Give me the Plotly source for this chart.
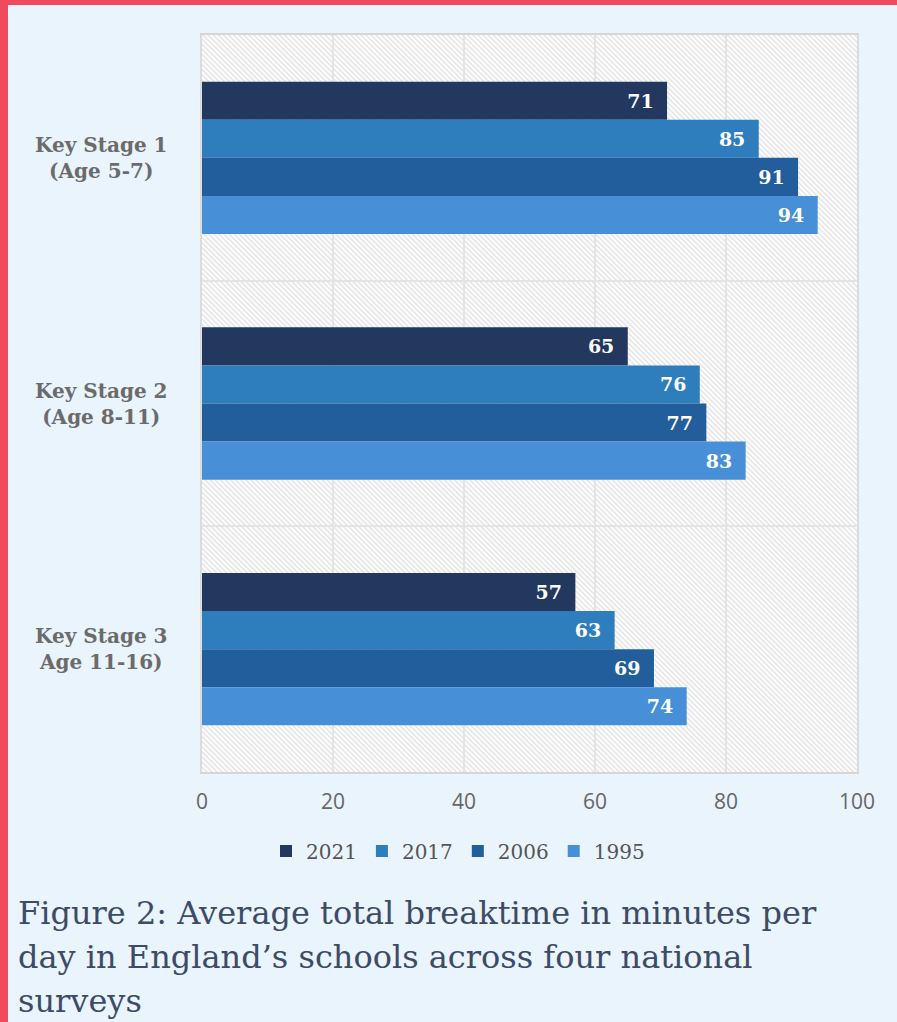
import base64
import plotly.graph_objects as go

# ---------------- data ----------------
categories = ["Key Stage 1", "Key Stage 2", "Key Stage 3"]
category_labels = ["Key Stage 1<br>(Age 5-7)", "Key Stage 2<br>(Age 8-11)", "Key Stage 3<br>Age 11-16)"]
series_names = ["2021", "2017", "2006", "1995"]
values_2021 = [71, 65, 57]
values_2017 = [85, 76, 63]
values_2006 = [91, 77, 69]
values_1995 = [94, 83, 74]
x_tick_values = [0, 20, 40, 60, 80, 100]
caption_lines = [
    "Figure 2: Average total breaktime in minutes per",
    "day in England\u2019s schools across four national",
    "surveys",
]

series_values = [values_2021, values_2017, values_2006, values_1995]
series_colors = ["#22385e", "#2e7dbd", "#225e9c", "#4790d8"]

# ---------------- geometry helpers ----------------
FIG_W, FIG_H = 897, 1022
L, R, T, B = 202, 857, 35, 772
W, H = R - L, B - T


def px_x(p):
    return (p - L) / W


def px_y(p):
    return (B - p) / H


# hatch background as an inline SVG image
svg = f'''<svg xmlns="http://www.w3.org/2000/svg" width="{W}" height="{H}" viewBox="0 0 {W} {H}">
<defs><pattern id="h" patternUnits="userSpaceOnUse" width="3.6" height="3.6" patternTransform="rotate(-45)">
<rect width="3.6" height="3.6" fill="#fcfcfc"/><rect width="1.4" height="3.6" fill="#e3e3e3"/></pattern></defs>
<rect width="{W}" height="{H}" fill="url(#h)"/></svg>'''
svg_uri = "data:image/svg+xml;base64," + base64.b64encode(svg.encode()).decode()

fig = go.Figure()

for name, vals, col in zip(series_names, series_values, series_colors):
    fig.add_trace(go.Bar(
        name=name,
        y=categories,
        x=vals,
        orientation="h",
        marker=dict(color=col, line=dict(width=0)),
        texttemplate="%{x}\u00a0\u2009",
        textposition="inside",
        insidetextanchor="end",
        textangle=0,
        textfont=dict(family="DejaVu Serif", size=19, color="white", weight="bold"),
        hoverinfo="skip",
    ))

annotations = []
for cat, lab in zip(categories, category_labels):
    annotations.append(dict(
        x=px_x(101), xref="paper", y=cat, yref="y",
        text=lab, showarrow=False, xanchor="center", yanchor="middle", align="center",
        font=dict(family="DejaVu Serif", size=20, color="#6b6b6b", weight="bold"),
    ))

caption_centers = [913, 957, 1001]
for line, cy in zip(caption_lines, caption_centers):
    annotations.append(dict(
        x=px_x(16), xref="paper", y=px_y(cy), yref="paper",
        text=line, showarrow=False, xanchor="left", yanchor="middle", align="left",
        font=dict(family="DejaVu Serif", size=32, color="#3d4b66"),
    ))

shapes = [
    dict(type="rect", xref="paper", yref="paper", layer="above",
         x0=px_x(0), x1=px_x(FIG_W), y0=px_y(5), y1=px_y(0),
         fillcolor="#f04a5c", line=dict(width=0)),
    dict(type="rect", xref="paper", yref="paper", layer="above",
         x0=px_x(0), x1=px_x(8), y0=px_y(FIG_H), y1=px_y(0),
         fillcolor="#f04a5c", line=dict(width=0)),
]

fig.update_layout(
    width=FIG_W, height=FIG_H,
    margin=dict(l=L, r=FIG_W - R, t=T, b=FIG_H - B, pad=0),
    paper_bgcolor="#e9f4fc",
    plot_bgcolor="rgba(0,0,0,0)",
    barmode="group",
    bargap=0.38,
    bargroupgap=0,
    showlegend=True,
    legend=dict(
        orientation="h", x=px_x(458), xanchor="center", y=px_y(851), yanchor="middle",
        font=dict(family="DejaVu Serif", size=20, color="#555555"),
        bgcolor="rgba(0,0,0,0)", itemwidth=30, traceorder="normal",
    ),
    xaxis=dict(
        range=[0, 100], tickvals=x_tick_values, showgrid=True, gridcolor="#e4e4e4", gridwidth=2,
        zeroline=False, showline=True, linecolor="#d6d6d6", linewidth=2, mirror=True,
        ticks="", ticklabelstandoff=10,
        tickfont=dict(family="Open Sans", size=21, color="#666666"),
    ),
    yaxis=dict(
        autorange="reversed", showticklabels=False, ticks="", tickson="boundaries",
        showgrid=True, gridcolor="#e4e4e4", gridwidth=2,
        showline=True, linecolor="#dcdcdc", linewidth=2, mirror=True,
    ),
    images=[dict(source=svg_uri, xref="paper", yref="paper", x=0, y=1, sizex=1, sizey=1,
                 xanchor="left", yanchor="top", sizing="stretch", layer="below")],
    annotations=annotations,
    shapes=shapes,
)

fig.write_html("out.html")
